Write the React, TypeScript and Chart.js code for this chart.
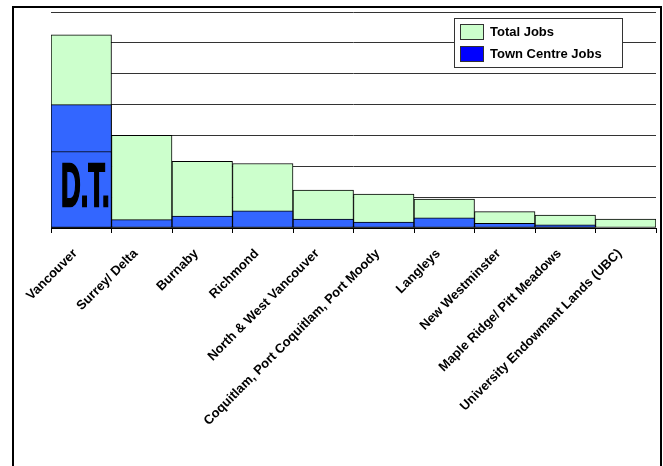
import React, { useEffect, useRef } from "react";
import { Chart, registerables } from "chart.js";

Chart.register(...registerables);

const categories = [
  "Vancouver",
  "Surrey/ Delta",
  "Burnaby",
  "Richmond",
  "North & West Vancouver",
  "Coquitlam, Port Coquitlam, Port Moody",
  "Langleys",
  "New Westminster",
  "Maple Ridge/ Pitt Meadows",
  "University Endowmant Lands (UBC)",
];
const totalJobs = [6.26, 3.0, 2.16, 2.09, 1.23, 1.1, 0.94, 0.53, 0.42, 0.29];
const townCentreJobs = [4.0, 0.27, 0.39, 0.56, 0.29, 0.19, 0.33, 0.15, 0.1, null];
const downtownJobs = [2.48, null, null, null, null, null, null, null, null, null];
const downtownLabel = "D.T.";

const FONT = 'Arial, "Liberation Sans", sans-serif';

const framePlugin = {
  id: "frame",
  beforeDraw(chart: any) {
    const ctx = chart.ctx;
    ctx.save();
    ctx.fillStyle = "#ffffff";
    ctx.fillRect(0, 0, chart.width, chart.height);
    ctx.strokeStyle = "#000000";
    ctx.lineWidth = 2;
    ctx.strokeRect(13, 7, 648, 520);
    ctx.restore();
  },
};

const dtPlugin = {
  id: "dtLabel",
  afterDatasetsDraw(chart: any) {
    const meta = chart.getDatasetMeta(2);
    const el = meta.data[0];
    if (!el) return;
    const ctx = chart.ctx;
    ctx.save();
    ctx.fillStyle = "#000000";
    ctx.strokeStyle = "#000000";
    ctx.lineWidth = 2.5;
    ctx.font = `bold 62px ${FONT}`;
    ctx.textAlign = "center";
    ctx.textBaseline = "alphabetic";
    const cx = el.x + 4;
    const by = el.y + 55;
    ctx.translate(cx, by);
    ctx.scale(0.44, 1);
    ctx.fillText(downtownLabel, 0, 0);
    ctx.strokeText(downtownLabel, 0, 0);
    ctx.restore();
  },
};

const legendPlugin = {
  id: "boxLegend",
  afterDraw(chart: any) {
    const ctx = chart.ctx;
    const items = [
      { label: chart.data.datasets[0].label, color: "#CCFFCC" },
      { label: chart.data.datasets[1].label, color: "#0000FF" },
    ];
    ctx.save();
    ctx.fillStyle = "#ffffff";
    ctx.fillRect(454, 18, 168, 49);
    ctx.strokeStyle = "#333333";
    ctx.lineWidth = 1;
    ctx.strokeRect(454.5, 18.5, 168, 49);
    items.forEach((it, i) => {
      const y = 24 + i * 22;
      ctx.fillStyle = it.color;
      ctx.fillRect(460, y, 23, 15);
      ctx.strokeStyle = "#333333";
      ctx.strokeRect(460.5, y + 0.5, 23, 15);
      ctx.fillStyle = "#000000";
      ctx.font = `bold 13px ${FONT}`;
      ctx.textAlign = "left";
      ctx.textBaseline = "middle";
      ctx.fillText(it.label, 490, y + 8);
    });
    ctx.restore();
  },
};

export default function App() {
  const ref = useRef<HTMLCanvasElement | null>(null);
  useEffect(() => {
    if (!ref.current) return;
    const chart = new Chart(ref.current, {
      type: "bar",
      data: {
        labels: categories,
        datasets: [
          {
            label: "Total Jobs",
            data: totalJobs,
            backgroundColor: "#CCFFCC",
            borderColor: "#000000",
            borderWidth: 1,
            borderSkipped: false,
            order: 3,
          },
          {
            label: "Town Centre Jobs",
            data: townCentreJobs as any,
            backgroundColor: "#3366FF",
            borderColor: "#000000",
            borderWidth: 1,
            borderSkipped: false,
            order: 2,
          },
          {
            label: downtownLabel,
            data: downtownJobs as any,
            backgroundColor: "#3366FF",
            borderColor: "#000000",
            borderWidth: 1,
            borderSkipped: false,
            order: 1,
          },
        ],
      },
      options: {
        responsive: false,
        animation: false,
        datasets: { bar: { grouped: false, categoryPercentage: 1, barPercentage: 1 } } as any,
        layout: { padding: { left: 51, right: 7, top: 12, bottom: 0 } },
        plugins: { legend: { display: false }, tooltip: { enabled: false } },
        scales: {
          x: {
            grid: {
              display: true,
              drawOnChartArea: false,
              drawTicks: true,
              tickLength: 5,
              color: "#000000",
              offset: true,
            },
            border: { display: true, color: "#000000", width: 1 },
            ticks: {
              autoSkip: false,
              maxRotation: 45,
              minRotation: 45,
              padding: 13,
              labelOffset: -6,
              color: "#000000",
              font: { family: FONT, size: 13, weight: "bold" },
            },
            afterFit: (scale: any) => {
              scale.height = 238;
              scale.paddingLeft = 0;
              scale.paddingRight = 0;
            },
          },
          y: {
            min: 0,
            max: 7,
            ticks: { display: false, stepSize: 1 },
            grid: { color: "#333333", drawTicks: false, lineWidth: 1 },
            border: { display: false },
          },
        },
      },
      plugins: [framePlugin, dtPlugin, legendPlugin],
    });
    return () => chart.destroy();
  }, []);
  return (
    <div style={{ position: "absolute", left: 0, top: 0, width: 663, height: 466 }}>
      <canvas ref={ref} width={663} height={466} style={{ display: "block" }} />
    </div>
  );
}
